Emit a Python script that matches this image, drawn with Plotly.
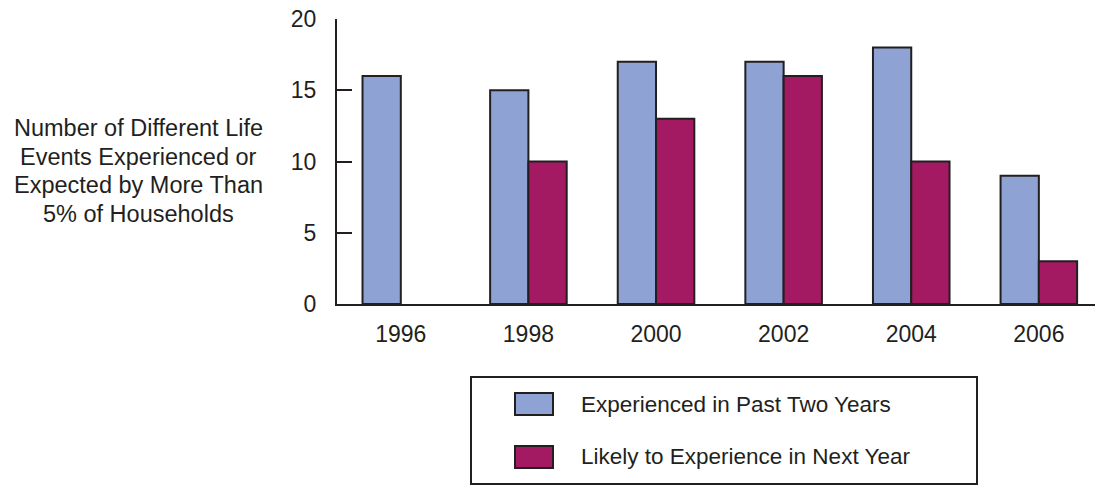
import plotly.graph_objects as go

years = ["1996", "1998", "2000", "2002", "2004", "2006"]
experienced = [16, 15, 17, 17, 18, 9]
likely = [None, 10, 13, 16, 10, 3]
series_names = ["Experienced in Past Two Years", "Likely to Experience in Next Year"]
colors = ["#8EA2D4", "#A31A62"]
y_ticks = [0, 5, 10, 15, 20]
y_title_lines = ["Number of Different Life", "Events Experienced or", "Expected by More Than", "5% of Households"]

W, H = 1095, 485
L, R, T, B = 337, 0, 19, 181
FONT = "Liberation Sans, Arial, sans-serif"
EDGE = "#231F20"

def px(x):
    return (x - L) / (W - L - R)

def py(y):
    return (H - B - y) / (H - T - B)

fig = go.Figure()
for name, vals, col in zip(series_names, [experienced, likely], colors):
    fig.add_trace(go.Bar(x=years, y=vals, name=name, marker=dict(color=col, line=dict(color=EDGE, width=2)),
                         showlegend=False))

fig.update_layout(
    width=W, height=H,
    margin=dict(l=L, r=R, t=T, b=B, pad=0),
    barmode="group", bargap=0.4, bargroupgap=0,
    plot_bgcolor="white", paper_bgcolor="white",
    font=dict(family=FONT, size=23, color="#231F20"),
    xaxis=dict(type="category", range=[-0.5, 5.44], showline=True, linecolor=EDGE, linewidth=2,
               ticks="outside", ticklen=8, tickcolor="rgba(0,0,0,0)", showgrid=False, zeroline=False,
               tickfont=dict(size=23)),
    yaxis=dict(range=[0, 20], tickvals=y_ticks, showline=True, linecolor=EDGE, linewidth=2,
               ticks="inside", ticklen=15, tickwidth=1.5, tickcolor=EDGE, showgrid=False, zeroline=False,
               ticklabelstandoff=14, tickfont=dict(size=23)),
)

# y-axis title (one annotation per line)
for i, line in enumerate(y_title_lines):
    fig.add_annotation(text=line, xref="paper", yref="paper", x=px(138), y=py(128 + i * 28.7),
                       xanchor="center", yanchor="middle", showarrow=False, font=dict(size=23.5))

# custom legend
fig.add_shape(type="rect", xref="paper", yref="paper", x0=px(471), x1=px(977), y0=py(377), y1=py(484),
              line=dict(color=EDGE, width=2), fillcolor="white")
for i, (name, col) in enumerate(zip(series_names, colors)):
    yc = 404 + i * 53
    fig.add_shape(type="rect", xref="paper", yref="paper", x0=px(515), x1=px(553), y0=py(yc - 11), y1=py(yc + 11),
                  line=dict(color=EDGE, width=2), fillcolor=col)
    fig.add_annotation(text=name, xref="paper", yref="paper", x=px(579), y=py(yc), xanchor="left", yanchor="middle",
                       showarrow=False, font=dict(size=22.5))

fig.write_html("out.html")
